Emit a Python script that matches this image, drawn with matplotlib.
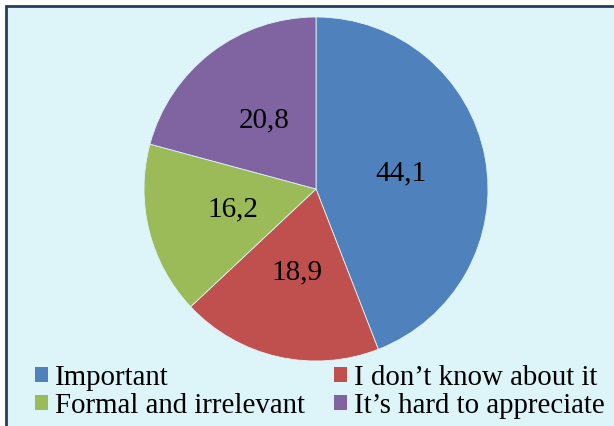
import matplotlib
matplotlib.use("Agg")
import matplotlib.pyplot as plt
from matplotlib.patches import Rectangle, Patch

categories = ["Important", "I don’t know about it", "Formal and irrelevant", "It’s hard to appreciate"]
values = [44.1, 18.9, 16.2, 20.8]
colors = ["#4F81BD", "#C0504D", "#9BBB59", "#8064A2"]

W, H = 614, 426
fig = plt.figure(figsize=(W / 100, H / 100), dpi=100)
fig.patch.set_facecolor("white")

# panel background with dark frame running off the right/bottom edges
fig.patches.append(Rectangle((6 / W, -10 / H), (W + 10) / W, (H - 6 + 10) / H,
                             transform=fig.transFigure, facecolor="#DDF4F9",
                             edgecolor="#2B3B5C", linewidth=2.0, zorder=-5))

font = "Liberation Serif"
cx, cy, r = 316, 189, 172
ax = fig.add_axes([(cx - r) / W, 1 - (cy + r) / H, 2 * r / W, 2 * r / H])

wedges, texts = ax.pie(values, colors=colors, startangle=90, counterclock=False,
                       radius=1.0, labels=[f"{v:.1f}".replace(".", ",") for v in values],
                       labeldistance=0.5,
                       wedgeprops=dict(linewidth=0.6, edgecolor="#DDF4F9"),
                       textprops=dict(fontsize=21, family=font,
                                      color="black", ha="center", va="center"))
ax.set_xlim(-1, 1)
ax.set_ylim(-1, 1)
ax.set_aspect("equal")
ax.axis("off")

# legend is filled column by column: reorder so rows read left to right
order = [0, 2, 1, 3]
handles = [Patch(facecolor=colors[i], edgecolor="none") for i in order]
leg = fig.legend(handles, [categories[i] for i in order], loc="lower left",
                 bbox_to_anchor=(35 / W, 7 / H), ncol=2, frameon=False,
                 prop=dict(family=font, size=20.8),
                 handlelength=0.45, handleheight=0.45, handletextpad=0.25,
                 columnspacing=1.0, labelspacing=0.08, borderaxespad=0,
                 borderpad=0)

fig.savefig("out.png", dpi=100)
